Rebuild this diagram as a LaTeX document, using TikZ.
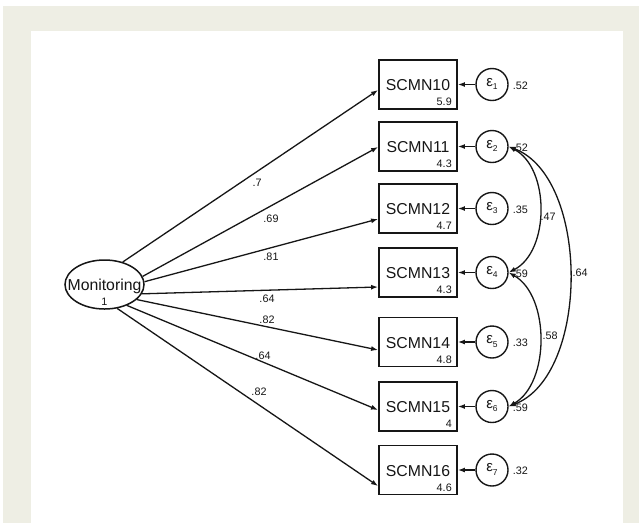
\documentclass[tikz,border=0pt]{standalone}
\usepackage{fontspec}
\setmainfont{Liberation Sans}
\usetikzlibrary{arrows.meta,shapes.geometric,calc}
\definecolor{framecol}{RGB}{238,238,228}
\definecolor{ink}{RGB}{22,22,22}

\begin{document}
\begin{tikzpicture}[x=1pt,y=-1pt,
  obsbox/.style={draw=ink, line width=1.9pt, minimum width=78pt, minimum height=49pt, inner sep=0pt},
  latent/.style={draw=ink, line width=1.5pt, ellipse, minimum width=79pt, minimum height=49pt, inner sep=0pt},
  errcirc/.style={draw=ink, circle, line width=1.4pt, minimum size=32pt, inner sep=0pt},
  bigtxt/.style={font=\fontsize{15.8}{18}\selectfont, inner sep=0pt, text=ink},
  smalltxt/.style={font=\fontsize{10.8}{12}\selectfont, inner sep=0pt, text=ink},
  epstxt/.style={font=\fontsize{15}{17}\selectfont, inner sep=0pt, text=ink},
  loadarrow/.style={draw=ink, line width=1.3pt, -{Latex[length=7pt,width=5pt]}},
  covarrow/.style={draw=ink, line width=1.3pt, {Latex[length=7pt,width=5pt]}-{Latex[length=7pt,width=5pt]}}
]
% page, frame and white panel
\useasboundingbox (0,0) rectangle (639,523);
\fill[white] (0,0) rectangle (639,523);
\fill[framecol] (3,6) rectangle (639,523);
\fill[white] (31,31) rectangle (623,523);

% latent factor
\node[latent] (mon) at (104.5,284.5) {};
\node[bigtxt] at ($(mon)+(0,2)$) {Monitoring};
\node[smalltxt] at ($(mon)+(0,17)$) {1};

% indicators, their errors and loadings
% \a = exit angle on the ellipse, \d = entry height on the box (from its centre),
% (\lx,\ly) = loading label
\foreach \i/\y/\nm/\mn/\vr/\ld/\a/\d/\lx/\ly in {
  1/84.5/SCMN10/5.9/.52/.7/51/5.5/257/183,
  2/146.5/SCMN11/4.3/.52/.69/12/0.5/271/219,
  3/208.5/SCMN12/4.7/.35/.81/4/10.5/271/257,
  4/272.5/SCMN13/4.3/.59/.64/-14/14.5/267/299,
  5/342/SCMN14/4.8/.33/.82/-25/8/267/320,
  6/406.5/SCMN15/4/.59/.64/-43/3.5/263/356,
  7/470/SCMN16/4.6/.32/.82/-62/16/259/392}{
  \node[obsbox] (b\i) at (418,\y) {};
  \node[bigtxt] at ($(b\i)+(0,1)$) {\nm};
  \node[smalltxt, anchor=south east] at ($(b\i.south east)+(-6,-4)$) {\mn};
  \node[errcirc] (e\i) at (492,\y) {};
  \node[epstxt] at ($(e\i)+(0,-0.5)$) {ε\raisebox{-3.5pt}{\fontsize{8.5}{9}\selectfont\i}};
  \node[smalltxt, anchor=west] at ($(e\i.east)+(4,1)$) {\vr};
  \draw[loadarrow] (e\i) -- (b\i);
  \coordinate (in\i) at ($(b\i.west)+(0,\d)$);
  \draw[loadarrow] (mon.\a) -- (in\i);
  \node[smalltxt] at (\lx,\ly) {\ld};
}

% error covariances
\draw[covarrow] (e2.east) .. controls (550,168) and (550,251) .. (e4.east);
\draw[covarrow] (e4.east) .. controls (550,296) and (550,383) .. (e6.east);
\draw[covarrow] (e2.east) .. controls (590,178) and (590,375) .. (e6.east);
\node[smalltxt] at (548,217) {.47};
\node[smalltxt] at (550,336) {.58};
\node[smalltxt] at (580,273) {.64};
\end{tikzpicture}
\end{document}
